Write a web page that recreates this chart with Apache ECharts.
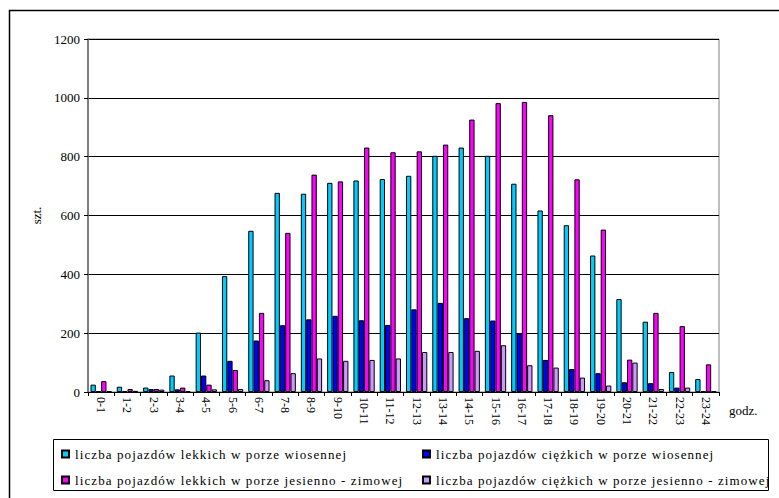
<!DOCTYPE html>
<html>
<head>
<meta charset="utf-8">
<script src="https://cdn.jsdelivr.net/npm/echarts@6/dist/echarts.min.js"></script>
<style>
  html, body { margin: 0; padding: 0; background: #ffffff; }
  #chart { width: 779px; height: 498px; }
</style>
</head>
<body>
<div id="chart"></div>
<script>
// Hourly traffic counts (szt.) by hour interval
const hours = ['0-1','1-2','2-3','3-4','4-5','5-6','6-7','7-8','8-9','9-10','10-11','11-12',
               '12-13','13-14','14-15','15-16','16-17','17-18','18-19','19-20','20-21','21-22','22-23','23-24'];

const lightSpring  = [25, 18, 15, 56, 202, 394, 548, 677, 674, 711, 719, 724, 735, 803, 831, 803, 708, 617, 567, 464, 316, 239, 68, 44];
const heavySpring  = [3, 3, 10, 9, 56, 106, 175, 227, 247, 259, 244, 228, 281, 303, 251, 243, 199, 109, 78, 64, 33, 30, 15, 3];
const lightAutumn  = [37, 10, 10, 15, 25, 75, 269, 541, 739, 716, 831, 815, 818, 841, 926, 982, 986, 941, 723, 552, 110, 269, 224, 94];
const heavyAutumn  = [2, 4, 8, 3, 9, 10, 40, 64, 114, 106, 109, 114, 136, 136, 140, 159, 91, 83, 49, 22, 100, 10, 15, 2];

const yTicks = { min: 0, max: 1200, interval: 200 };

const seriesNames = [
  'liczba pojazdów lekkich w porze wiosennej',
  'liczba pojazdów ciężkich w porze wiosennej',
  'liczba pojazdów lekkich w porze jesienno - zimowej',
  'liczba pojazdów ciężkich w porze jesienno - zimowej'
];
const seriesColors = ['#00ccff', '#0000ff', '#ff00ff', '#cc99ff'];
const seriesData = [lightSpring, heavySpring, lightAutumn, heavyAutumn];

const serif = "'Liberation Serif', 'Times New Roman', serif";

const chart = echarts.init(document.getElementById('chart'), null, { renderer: 'svg' });

const legendCommon = {
  orient: 'vertical',
  itemWidth: 7,
  itemHeight: 7,
  itemGap: 12,
  icon: 'rect',
  padding: 0,
  textStyle: { fontFamily: serif, fontSize: 13, color: '#000', lineHeight: 14, padding: [0, 0, 0, 1] }
};

// Legend entries are set with loose tracking, like the spreadsheet output
function spaceLegendText() {
  document.querySelectorAll('#chart text').forEach(t => {
    if (seriesNames.indexOf(t.textContent) >= 0) {
      t.style.letterSpacing = '1.1px';
    }
  });
}
chart.on('finished', spaceLegendText);

chart.setOption({
  animation: false,
  backgroundColor: '#ffffff',
  textStyle: { fontFamily: serif },
  graphic: [
    { type: 'rect', shape: { x: 9.5, y: 10.5, width: 800, height: 520 },
      style: { fill: 'none', stroke: '#000', lineWidth: 1.5 }, silent: true, z: -1 },
    { type: 'rect', shape: { x: 53.5, y: 439.5, width: 715, height: 51 },
      style: { fill: 'none', stroke: '#000', lineWidth: 1 }, silent: true, z: -1 }
  ],
  legend: [
    Object.assign({ left: 61, top: 447, data: [seriesNames[0], seriesNames[2]] }, legendCommon),
    Object.assign({ left: 422, top: 447, data: [seriesNames[1], seriesNames[3]] }, legendCommon)
  ],
  grid: { left: 88, right: 60, top: 39, bottom: 106, containLabel: false,
          show: true, borderColor: '#808080', borderWidth: 1 },
  xAxis: {
    type: 'category',
    data: hours,
    name: 'godz.',
    nameLocation: 'end',
    nameGap: 10,
    nameTextStyle: { fontFamily: serif, fontSize: 13, color: '#000', verticalAlign: 'top', padding: [12, 0, 0, 0] },
    axisLine: { lineStyle: { color: '#000', width: 1 } },
    axisTick: { show: true, length: 4, inside: false, lineStyle: { color: '#000' } },
    axisLabel: { rotate: -90, fontFamily: serif, fontSize: 12, color: '#000', margin: 5, interval: 0 },
    splitLine: { show: false }
  },
  yAxis: {
    type: 'value',
    min: yTicks.min,
    max: yTicks.max,
    interval: yTicks.interval,
    name: 'szt.',
    nameLocation: 'middle',
    nameGap: 44,
    nameRotate: 90,
    nameTextStyle: { fontFamily: serif, fontSize: 13, color: '#000' },
    axisLine: { show: true, lineStyle: { color: '#666', width: 1.5 } },
    axisTick: { show: true, length: 4, lineStyle: { color: '#000' } },
    axisLabel: { fontFamily: serif, fontSize: 13, color: '#000', margin: 8,
                 formatter: v => String(v) },
    splitLine: { show: true, lineStyle: { color: '#000', width: 1 } }
  },
  series: seriesNames.map((name, i) => ({
    name: name,
    type: 'bar',
    data: seriesData[i],
    barGap: '0%',
    barCategoryGap: '19%',
    itemStyle: { color: seriesColors[i], borderColor: '#000', borderWidth: 1 },
    emphasis: { disabled: true }
  }))
});
spaceLegendText();
</script>
</body>
</html>
